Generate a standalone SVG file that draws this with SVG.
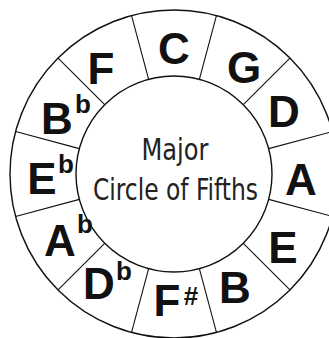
<svg xmlns="http://www.w3.org/2000/svg" width="329" height="338" viewBox="0 0 329 338">
<style>
.ring{fill:none;stroke:#111;stroke-width:1.4}
.div{stroke:#111;stroke-width:1.1}
.key{font-family:"Liberation Sans","Arial",sans-serif;font-weight:bold;font-size:44px;fill:#111;text-anchor:middle}
.sup{font-family:"Liberation Sans","Arial",sans-serif;font-weight:bold;font-size:26px;fill:#111;text-anchor:middle}
.title{font-family:"Liberation Sans Narrow","DejaVu Sans Condensed","Liberation Sans",sans-serif;font-size:31px;fill:#222;text-anchor:middle}
</style>
<rect width="329" height="338" fill="#fff"/>
<g id="wheel">
<circle class="ring" cx="174" cy="174" r="164"/>
<circle class="ring" cx="174" cy="174" r="98"/>
</g>
<g id="connectors">
<g transform="translate(174 174)">
<line class="div" x1="0" y1="-98" x2="0" y2="-164" transform="rotate(15)"/>
<line class="div" x1="0" y1="-98" x2="0" y2="-164" transform="rotate(45)"/>
<line class="div" x1="0" y1="-98" x2="0" y2="-164" transform="rotate(75)"/>
<line class="div" x1="0" y1="-98" x2="0" y2="-164" transform="rotate(105)"/>
<line class="div" x1="0" y1="-98" x2="0" y2="-164" transform="rotate(135)"/>
<line class="div" x1="0" y1="-98" x2="0" y2="-164" transform="rotate(165)"/>
<line class="div" x1="0" y1="-98" x2="0" y2="-164" transform="rotate(195)"/>
<line class="div" x1="0" y1="-98" x2="0" y2="-164" transform="rotate(225)"/>
<line class="div" x1="0" y1="-98" x2="0" y2="-164" transform="rotate(255)"/>
<line class="div" x1="0" y1="-98" x2="0" y2="-164" transform="rotate(285)"/>
<line class="div" x1="0" y1="-98" x2="0" y2="-164" transform="rotate(315)"/>
<line class="div" x1="0" y1="-98" x2="0" y2="-164" transform="rotate(345)"/>
</g>
</g>
<g id="center">
<text class="title" x="175" y="160" textLength="67" lengthAdjust="spacingAndGlyphs">Major</text>
<text class="title" x="175.5" y="200" textLength="165" lengthAdjust="spacingAndGlyphs">Circle of Fifths</text>
</g>
<g id="key-C"><text class="key" x="174" y="64">C</text></g>
<g id="key-G"><text class="key" x="244" y="83">G</text></g>
<g id="key-D"><text class="key" x="284" y="127">D</text></g>
<g id="key-A"><text class="key" x="301" y="195">A</text></g>
<g id="key-E"><text class="key" x="283" y="263">E</text></g>
<g id="key-B"><text class="key" x="235" y="303">B</text></g>
<g id="key-Fsharp"><text class="key" x="167" y="316">F</text><text class="sup" x="191" y="305">#</text></g>
<g id="key-Dflat"><text class="key" x="99" y="299">D</text><text class="sup" x="124" y="280">b</text></g>
<g id="key-Aflat"><text class="key" x="60" y="256">A</text><text class="sup" x="85" y="233">b</text></g>
<g id="key-Eflat"><text class="key" x="42" y="194">E</text><text class="sup" x="66" y="173">b</text></g>
<g id="key-Bflat"><text class="key" x="57" y="134">B</text><text class="sup" x="83" y="113">b</text></g>
<g id="key-F"><text class="key" x="101" y="84">F</text></g>
</svg>
